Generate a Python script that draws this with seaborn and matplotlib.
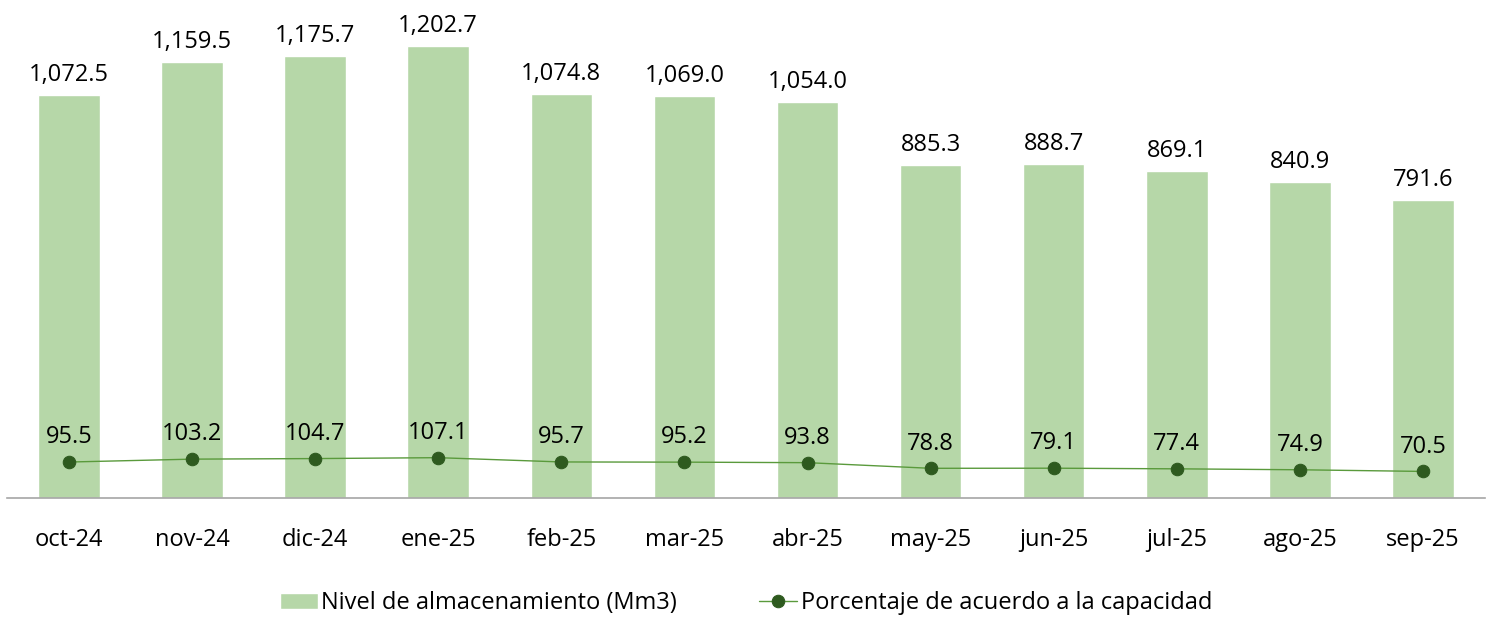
import matplotlib
matplotlib.use("Agg")
import matplotlib.pyplot as plt
import seaborn as sns
import pandas as pd

meses = ["oct-24", "nov-24", "dic-24", "ene-25", "feb-25", "mar-25",
         "abr-25", "may-25", "jun-25", "jul-25", "ago-25", "sep-25"]
almacenamiento = [1072.5, 1159.5, 1175.7, 1202.7, 1074.8, 1069.0,
                  1054.0, 885.3, 888.7, 869.1, 840.9, 791.6]
porcentaje = [95.5, 103.2, 104.7, 107.1, 95.7, 95.2,
              93.8, 78.8, 79.1, 77.4, 74.9, 70.5]

BAR_COLOR = "#b6d7a8"
LINE_COLOR = "#5a9a3c"
DOT_COLOR = "#2e5a1f"

df = pd.DataFrame({"mes": meses, "nivel": almacenamiento, "pct": porcentaje})

sns.set_style("white")
plt.rcParams["font.family"] = ["Open Sans", "DejaVu Sans"]
plt.rcParams["text.color"] = "black"
plt.rcParams["xtick.color"] = "black"

fig = plt.figure(figsize=(14.86, 6.17), dpi=100)
ax = fig.add_axes([0.005, 0.193, 0.994, 0.807])

sns.barplot(data=df, x="mes", y="nivel", color=BAR_COLOR, width=0.5,
            saturation=1, ax=ax, label="Nivel de almacenamiento (Mm3)")
sns.lineplot(data=df, x="mes", y="pct", sort=False, color=LINE_COLOR,
             linewidth=1.0, marker="o", markersize=9,
             markerfacecolor=DOT_COLOR, markeredgecolor=DOT_COLOR,
             ax=ax, label="Porcentaje de acuerdo a la capacidad")

# etiquetas de valores
for i, (v, p) in enumerate(zip(almacenamiento, porcentaje)):
    ax.text(i, v + 22, f"{v:,.1f}", ha="center", va="bottom", fontsize=17)
    ax.text(i, p + 34, f"{p:.1f}", ha="center", va="bottom", fontsize=17)

ax.set_xlim(-0.5, len(meses) - 0.5)
ax.set_ylim(0, 1325)
ax.set_xlabel("")
ax.set_ylabel("")
ax.set_yticks([])
ax.tick_params(axis="x", length=0, labelsize=17, pad=22)
for s in ["top", "right", "left"]:
    ax.spines[s].set_visible(False)
ax.spines["bottom"].set_color("#a6a6a6")
ax.spines["bottom"].set_linewidth(1.2)

handles, labels = ax.get_legend_handles_labels()
order = [labels.index("Nivel de almacenamiento (Mm3)"),
         labels.index("Porcentaje de acuerdo a la capacidad")]
ax.legend([handles[k] for k in order], [labels[k] for k in order],
          loc="upper center", bbox_to_anchor=(0.5, -0.145), ncol=2,
          frameon=False, fontsize=17, handlelength=1.6, handletextpad=0.15,
          columnspacing=3.5)

fig.savefig("out.png", dpi=100)
